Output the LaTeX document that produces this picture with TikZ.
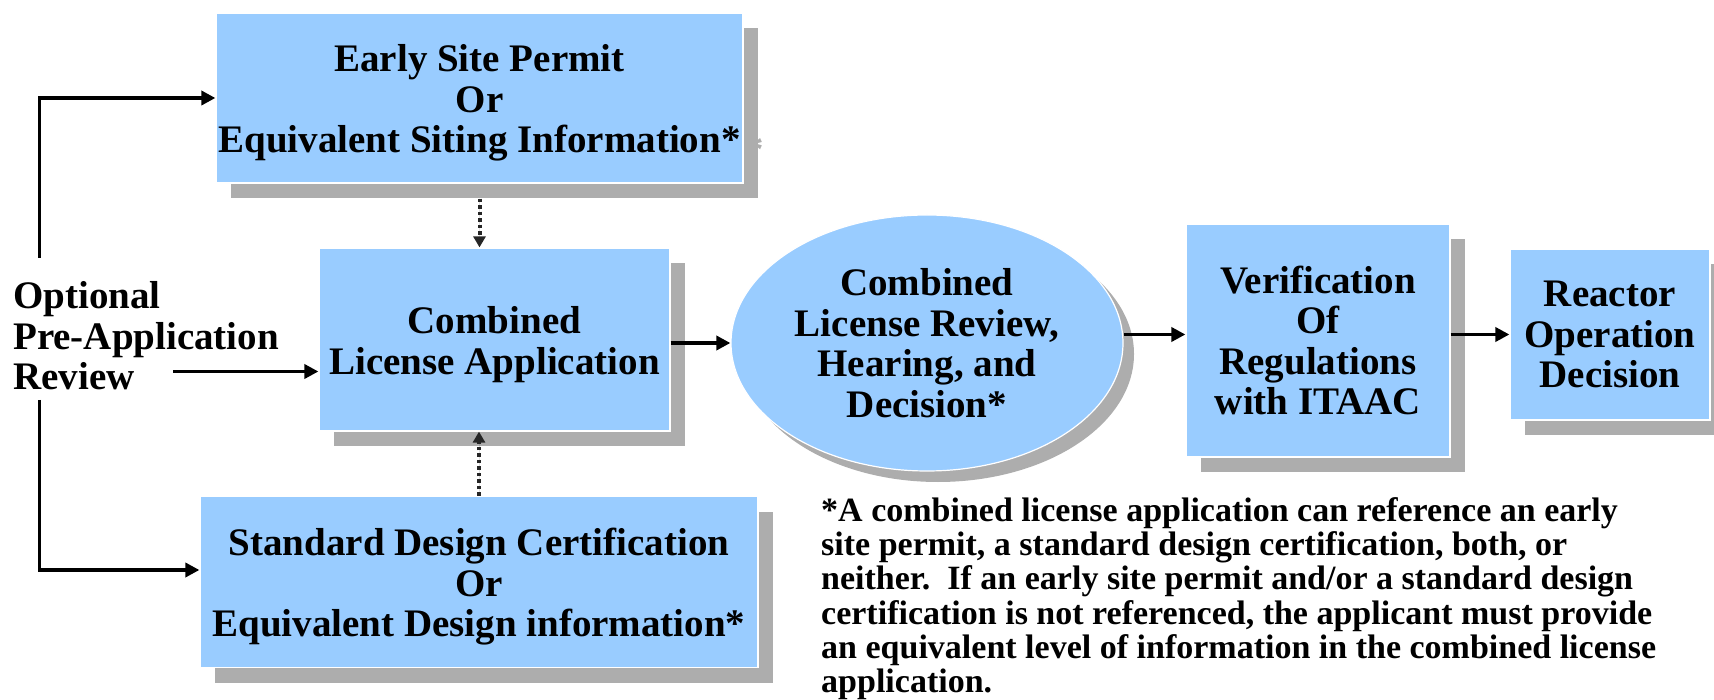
\documentclass[tikz,border=0pt]{standalone}
\usepackage{fontspec}
\setmainfont{Liberation Serif}
\usetikzlibrary{arrows.meta,shapes.geometric,shadows,calc}
\definecolor{boxblue}{HTML}{99CCFF}
\definecolor{shadowgray}{HTML}{ADADAD}
\begin{document}
\begin{tikzpicture}[x=1pt,y=-1pt,
  boxtext/.style={font=\fontsize{39}{40.5}\selectfont\bfseries, align=center, inner sep=0pt},
  bluebox/.style={rectangle, fill=boxblue, draw=white, line width=1.2pt, inner sep=0pt, boxtext,
    drop shadow={shadow xshift=15pt, shadow yshift=-15pt, fill=shadowgray, opacity=1}},
  blueell/.style={ellipse, fill=boxblue, draw=white, line width=1.2pt, inner sep=0pt, boxtext,
    drop shadow={shadow xshift=11pt, shadow yshift=-11pt, fill=shadowgray, opacity=1}},
  arr/.style={line width=3.8pt, -{Triangle[length=14pt,width=14pt]}},
  dotarr/.style={line width=4pt, dash pattern=on 3.5pt off 3pt, -{Triangle[length=11pt,width=12pt]}, draw=black!85, fill=black!85},
  note/.style={font=\fontsize{34}{34.3}\selectfont\bfseries, align=left, inner sep=0pt}
]
\useasboundingbox (0,0) rectangle (1714,700);
\fill[white] (0,0) rectangle (1714,700);

\node[bluebox, minimum width=527pt, minimum height=170pt] (esp) at (479.5,98) {};
\node[boxtext] (esptext) at ($(esp.center)+(0,5)$)
  {Early Site Permit\\Or\\Equivalent Siting Information*};
\node[bluebox, minimum width=351pt, minimum height=183pt] (cla) at (494.5,339.5) {};
\node[boxtext] (clatext) at ($(cla.center)+(0,5)$)
  {Combined\\License Application};
\node[bluebox, minimum width=558pt, minimum height=171pt] (sdc) at (479,582) {};
\node[boxtext] (sdctext) at ($(sdc.center)+(0,5)$)
  {Standard Design Certification\\Or\\Equivalent Design information*};
\node[blueell, minimum width=392pt, minimum height=256pt] (ell) at (927,343)
  {Combined\\License Review,\\Hearing, and\\Decision*};
\node[bluebox, minimum width=264pt, minimum height=233pt] (verif) at (1318,340.5)
  {Verification\\Of\\Regulations\\with ITAAC};
\node[bluebox, minimum width=200pt, minimum height=171pt] (react) at (1610,334.5)
  {Reactor\\Operation\\Decision};

\node[text=shadowgray, boxtext] (star) at (754,150) {*};

\node[boxtext, align=left, anchor=west] (opt) at (13,336)
  {Optional\\Pre-Application\\Review};

\node[note, anchor=north west] (fn) at (821,497)
  {*A combined license application can reference an early\\
   site permit, a standard design certification, both, or\\
   neither.\ \ If an early site permit and/or a standard design\\
   certification is not referenced, the applicant must provide\\
   an equivalent level of information in the combined license\\
   application.};

\coordinate (lt) at (39.5,257.6);
\coordinate (lb) at (39.5,400);
\coordinate (lbend) at (39.5,570);
\coordinate (mid) at (173,371.5);

\draw[arr] (lt) |- (esp.west);
\draw[arr] (lb) -- (lbend) -- (lbend -| sdc.west);
\draw[arr] (mid) -- (mid -| cla.west);
\draw[dotarr] ($(esp.south)+(0,15)$) -- (esp.south |- cla.north);
\draw[dotarr] (sdc.north) -- (sdc.north |- cla.south);
\draw[arr] (cla.east |- ell.west) -- (ell.west);
\draw[arr] (ell.east |- react.west) -- (verif.west |- react.west);
\draw[arr] (verif.east |- react.west) -- (react.west);
\end{tikzpicture}
\end{document}
